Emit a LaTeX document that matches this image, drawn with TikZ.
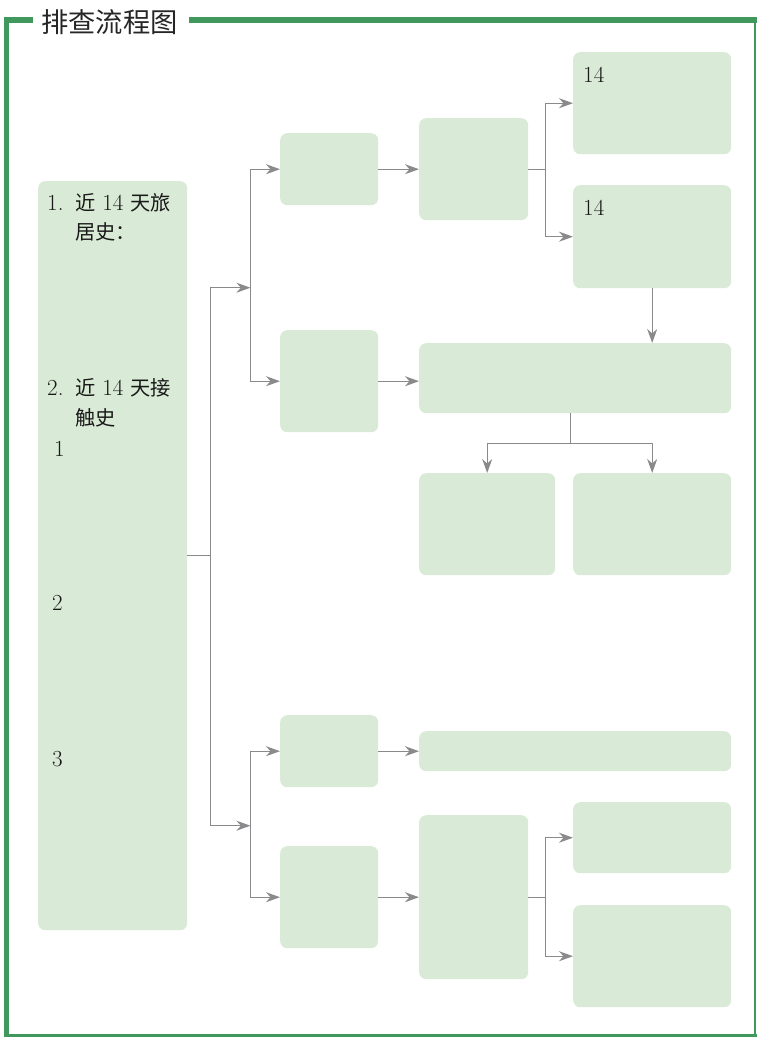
\documentclass[tikz,border=0pt]{standalone}
\usepackage{fontspec}
\newfontfamily\cjk[Scale=0.88]{Noto Sans CJK SC}
\usetikzlibrary{arrows.meta,positioning}
\definecolor{boxgreen}{HTML}{D9EBD6}
\definecolor{framegreen}{HTML}{40985C}
\definecolor{linegray}{HTML}{8A8A8C}

\begin{document}
\begin{tikzpicture}[x=1pt,y=-1pt,>={Stealth[length=14pt,width=10pt,inset=4.5pt]}]
		\tikzstyle{every node}=[font=\fontsize{23}{31}\selectfont];
		\tikzstyle{pane}=[fill=boxgreen,rounded corners=7pt,inner sep=0pt,anchor=north west];
		\tikzstyle{link}=[linegray,line width=1.3pt];
		\tikzstyle{label}=[anchor=base west,inner sep=0pt,text=black!90];

		\useasboundingbox (0,0) rectangle (757,1037);

		% frame and title
		\node[anchor=west,inner sep=0pt,text=black!85,font=\fontsize{31}{31}\selectfont\cjk] (title) at (41,22) {排查流程图};
		\draw[framegreen,line width=5pt] (6.5,1037) -- (6.5,17);
		\draw[framegreen,line width=6pt] (4,20) -- (33,20);
		\draw[framegreen,line width=6pt] (189,20) -- (757,20);
		\draw[framegreen,line width=1.5pt] (755,20) -- (755,1035);
		\draw[framegreen,line width=3pt] (4,1035) -- (757,1035);

		% boxes
		\node[pane,minimum width=149pt,minimum height=749pt] (hist) at (38,181) {};
		\node[pane,minimum width=98pt,minimum height=72pt] (a1) at (280,133) {};
		\node[pane,minimum width=109pt,minimum height=102pt] (a2) at (419,118) {};
		\node[pane,minimum width=158pt,minimum height=102pt] (a3) at (573,52) {};
		\node[pane,minimum width=158pt,minimum height=103pt] (a4) at (573,185) {};
		\node[pane,minimum width=98pt,minimum height=102pt] (b1) at (280,330) {};
		\node[pane,minimum width=312pt,minimum height=70pt] (b2) at (419,343) {};
		\node[pane,minimum width=136pt,minimum height=102pt] (b3) at (419,473) {};
		\node[pane,minimum width=158pt,minimum height=102pt] (b4) at (573,473) {};
		\node[pane,minimum width=98pt,minimum height=72pt] (c1) at (280,715) {};
		\node[pane,minimum width=312pt,minimum height=40pt] (c2) at (419,731) {};
		\node[pane,minimum width=98pt,minimum height=102pt] (d1) at (280,846) {};
		\node[pane,minimum width=109pt,minimum height=164pt] (d2) at (419,815) {};
		\node[pane,minimum width=158pt,minimum height=71pt] (d3) at (573,802) {};
		\node[pane,minimum width=158pt,minimum height=102pt] (d4) at (573,905) {};

		% texts
		\node[label] (h1) at (47,210) {1.};
		\node[label] (h1t) at (75,210) {{\cjk 近} 14 {\cjk 天旅}};
		\node[label] (h1u) at (75,239) {\cjk 居史：};
		\node[label] (h2) at (47,395) {2.};
		\node[label] (h2t) at (75,395) {{\cjk 近} 14 {\cjk 天接}};
		\node[label] (h2u) at (75,425) {\cjk 触史};
		\node[label] (k1) at (54,456) {1};
		\node[label] (k2) at (52,610) {2};
		\node[label] (k3) at (52,766) {3};
		\node[label] (a3t) at (583,82) {14};
		\node[label] (a4t) at (583,215) {14};

		% connectors
		\draw[link] (hist.east) -- ++(23,0) coordinate (j0);
		\path (j0) ++(40,-268) coordinate (ja);
		\path (j0) ++(40,270) coordinate (jd);
		\draw[link,->] (j0) |- (ja);
		\draw[link,->] (j0) |- (jd);
		\draw[link,->] (ja) |- (a1.west);
		\draw[link,->] (ja) |- (b1.west);
		\draw[link,->] (a1.east) -- (a1.east -| a2.west);
		\draw[link] (a2.east) -- ++(17,0) coordinate (jb);
		\draw[link,->] (jb) |- (a3.west);
		\draw[link,->] (jb) |- (a4.west);
		\draw[link,->] (a4.south) -- (a4.south |- b2.north);
		\draw[link,->] (b1.east) -- (b1.east -| b2.west);
		\draw[link] (b2.south) ++(-5,0) coordinate (jc0) -- ++(0,30) coordinate (jc);
		\draw[link,->] (jc) -| (b3.north);
		\draw[link,->] (jc) -| (b4.north);
		\draw[link,->] (jd) |- (c1.west);
		\draw[link,->] (jd) |- (d1.west);
		\draw[link,->] (c1.east) -- (c1.east -| c2.west);
		\draw[link,->] (d1.east) -- (d1.east -| d2.west);
		\draw[link] (d2.east) -- ++(17,0) coordinate (je);
		\draw[link,->] (je) |- (d3.west);
		\draw[link,->] (je) |- (d4.west);

\end{tikzpicture}
\end{document}
